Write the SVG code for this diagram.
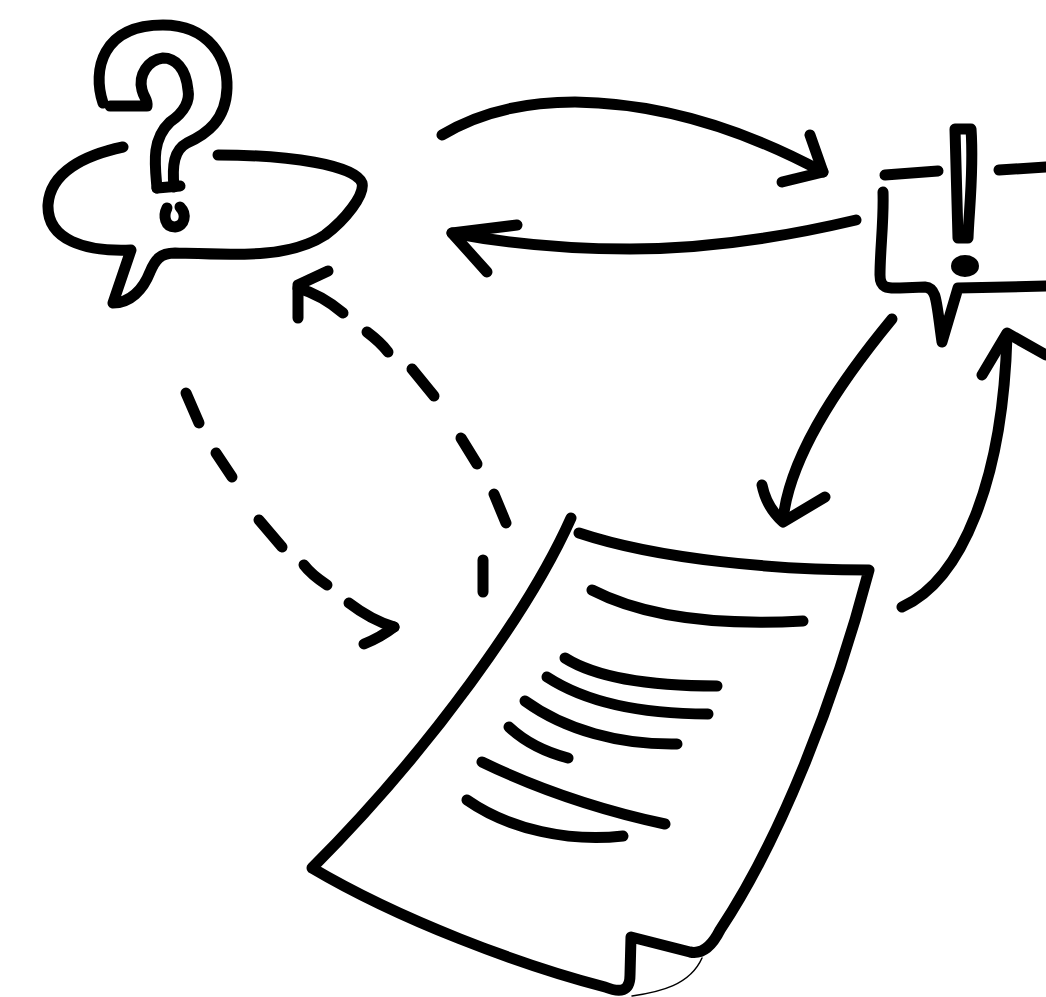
<svg xmlns="http://www.w3.org/2000/svg" width="1046" height="997" viewBox="0 0 1046 997">
<style>
path,ellipse{fill:none;stroke:#000;stroke-width:11;stroke-linecap:round;stroke-linejoin:round}
path.thin{stroke-width:1.5}
</style>
<rect width="1046" height="997" fill="#fff"/>
<g id="question-bubble">
<path d="M103 103C92 70 102 25 163 25C210 25 228 60 227 88C226 120 207 134 187 143C174 150 172 165 174 187"/>
<path d="M157 188L180 186"/>
<path d="M157 188C155 165 151 140 170 122C185 112 190 100 188 90C186 68 175 58 163 58C148 60 138 75 142 90C144 98 148 100 147 106L110 106"/>
<path d="M123 147C85 155 50 172 48 205C47 240 85 252 131 250L113 303C130 303 143 290 150 272C155 260 160 253 175 253C240 255 290 258 325 235C345 220 365 195 362 183C355 165 290 155 218 155"/>
<path d="M180 207C187 214 185 226 175 227C165 227 163 216 167 208"/>
</g>
<g id="exclamation-bubble">
<path d="M958 238L955 129L971 129C974 170 969 210 968 238Z"/>
<ellipse cx="965" cy="266" rx="8.5" ry="5.5"/>
<path d="M885 175L938 171"/>
<path d="M999 170L1046 167"/>
<path d="M883 192C884 220 880 250 880 275C880 290 890 288 900 288L925 287C937 288 936 300 942 342L958 288L1046 286"/>
</g>
<g id="document">
<path d="M571 518C530 610 430 750 312 868C400 920 520 965 605 987C620 993 630 992 630 975L631 937L690 952C705 955 715 940 720 930C780 840 835 700 869 570C780 570 660 560 579 533"/>
<path class="thin" d="M632 996C660 992 690 985 702 958"/>
<path d="M592 590C650 620 730 625 803 621"/>
<path d="M565 658C600 680 660 686 717 686"/>
<path d="M547 677C590 705 650 714 708 714"/>
<path d="M525 701C565 730 620 745 677 744"/>
<path d="M509 727C525 742 545 752 568 758"/>
<path d="M482 762C540 790 600 810 665 824"/>
<path d="M467 800C510 830 570 842 623 836"/>
</g>
<g id="connectors">
<path d="M442 135C480 112 525 102 575 102C660 103 745 130 823 172"/>
<path d="M810 135L823 172L782 182"/>
<path d="M856 220C780 238 700 249 630 249C560 249 505 243 452 233"/>
<path d="M517 225L452 233L487 272"/>
<path d="M892 319C850 370 790 450 783 520"/>
<path d="M762 485C765 500 772 512 783 522L825 497"/>
<path d="M902 607C962 580 1003 480 1007 335"/>
<path d="M982 375L1007 333L1046 355"/>
<path d="M483 592L483 560"/>
<path d="M506 523L494 494"/>
<path d="M477 464L461 438"/>
<path d="M434 396L412 369"/>
<path d="M388 352C382 344 375 338 367 332"/>
<path d="M343 313C330 302 315 293 298 288"/>
<path d="M328 271L298 285L298 318"/>
<path d="M186 393L199 423"/>
<path d="M216 453L232 477"/>
<path d="M259 520L282 547"/>
<path d="M304 565C310 573 318 579 327 585"/>
<path d="M349 603C362 613 378 622 394 627"/>
<path d="M364 644C374 640 385 634 394 627"/>
</g>
</svg>
